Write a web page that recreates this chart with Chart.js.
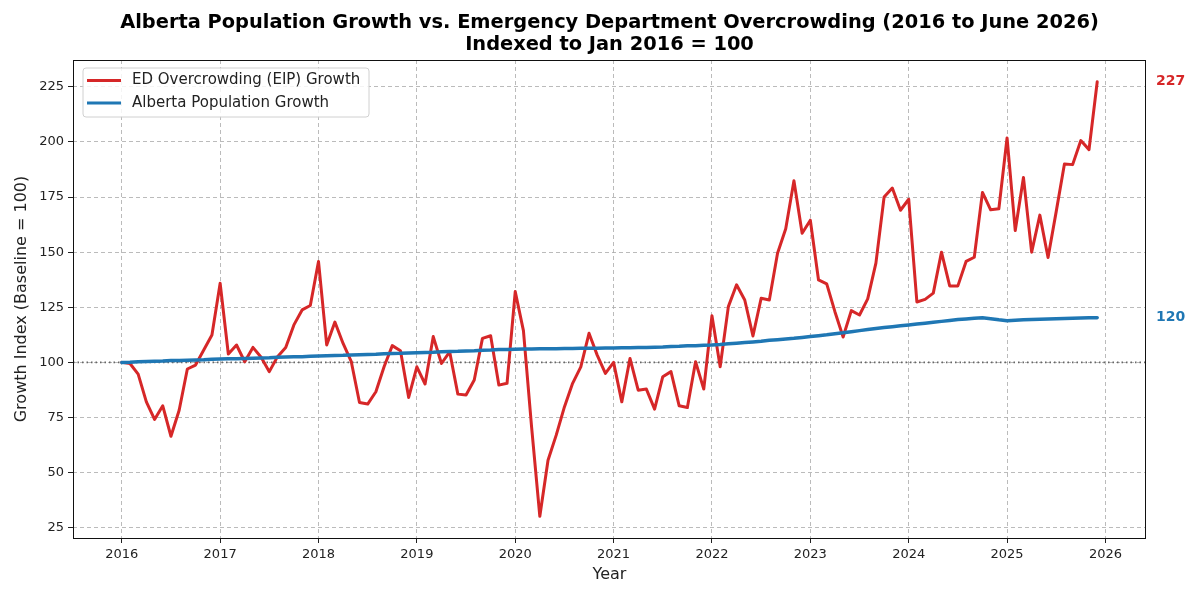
<!DOCTYPE html>
<html>
<head>
<meta charset="utf-8">
<title>Alberta Population Growth vs. ED Overcrowding</title>
<script src="https://cdn.jsdelivr.net/npm/chart.js@4.4.1/dist/chart.umd.min.js"></script>
<style>
  html, body { margin: 0; padding: 0; background: #fff; }
  #wrap { width: 1200px; height: 600px; }
</style>
</head>
<body>
<div id="wrap"><canvas id="growthChart" width="1200" height="600"></canvas></div>
<script>
// Monthly index values, Jan 2016 .. Dec 2025 (Jan 2016 = 100)
const startYear = 2016;

const edGrowth = [
  100.0, 99.5, 94.7, 82.1, 74.1, 80.3, 66.5, 78.3, 97.0, 98.8, 105.6, 112.4,   // 2016
  135.9, 103.8, 107.9, 100.3, 106.8, 102.3, 95.8, 102.6, 106.8, 117.0, 123.8, 125.8, // 2017
  145.8, 107.9, 118.3, 108.6, 100.3, 81.8, 81.1, 86.7, 98.0, 107.6, 105.3, 84.1,  // 2018
  98.0, 90.2, 111.7, 99.5, 104.8, 85.6, 85.2, 92.0, 110.9, 112.1, 89.7, 90.5,     // 2019
  132.1, 114.4, 70.5, 30.2, 55.6, 67.0, 79.8, 90.5, 98.0, 113.2, 103.3, 95.0,     // 2020
  100.0, 82.1, 101.8, 87.4, 87.9, 78.8, 93.5, 95.8, 80.3, 79.5, 100.3, 87.9,      // 2021
  121.2, 98.0, 125.3, 135.2, 128.3, 112.0, 129.1, 128.3, 149.5, 160.6, 182.4, 158.6, // 2022
  164.5, 137.4, 135.6, 123.0, 111.5, 123.5, 121.5, 128.8, 145.0, 175.0, 179.1, 169.0, // 2023
  174.0, 127.4, 128.6, 131.4, 150.0, 134.7, 134.7, 145.8, 147.7, 177.1, 169.2, 169.7, // 2024
  201.8, 159.8, 183.9, 150.0, 166.8, 147.6, 168.5, 190.0, 189.7, 200.6, 196.5, 227.3  // 2025
];

const popGrowth = [
  100.0, 100.1, 100.3, 100.4, 100.5, 100.6, 100.8, 100.9, 101.0, 101.1, 101.2, 101.4, // 2016
  101.5, 101.6, 101.7, 101.8, 101.9, 102.0, 102.1, 102.3, 102.4, 102.5, 102.6, 102.8, // 2017
  102.9, 103.0, 103.1, 103.2, 103.4, 103.5, 103.6, 103.7, 103.9, 104.0, 104.1, 104.3, // 2018
  104.4, 104.5, 104.6, 104.8, 104.9, 105.0, 105.2, 105.3, 105.5, 105.6, 105.8, 105.9, // 2019
  106.0, 106.1, 106.1, 106.2, 106.2, 106.2, 106.3, 106.3, 106.4, 106.4, 106.4, 106.5, // 2020
  106.5, 106.6, 106.6, 106.7, 106.8, 106.9, 107.0, 107.2, 107.3, 107.5, 107.6, 107.8, // 2021
  107.9, 108.1, 108.4, 108.7, 109.0, 109.3, 109.6, 110.0, 110.3, 110.6, 110.9, 111.3, // 2022
  111.7, 112.1, 112.5, 113.0, 113.4, 113.9, 114.4, 114.9, 115.4, 115.8, 116.2, 116.6, // 2023
  117.0, 117.4, 117.8, 118.2, 118.6, 119.0, 119.4, 119.7, 120.0, 120.2, 119.8, 119.3, // 2024
  118.9, 119.1, 119.3, 119.5, 119.6, 119.7, 119.8, 119.9, 120.0, 120.1, 120.2, 120.3  // 2025
];

const yearTicks = [2016, 2017, 2018, 2019, 2020, 2021, 2022, 2023, 2024, 2025, 2026];
const indexTicks = [25, 50, 75, 100, 125, 150, 175, 200, 225];
const baseline = 100;

const seriesNames = ["ED Overcrowding (EIP) Growth", "Alberta Population Growth"];
const titleLines = [
  "Alberta Population Growth vs. Emergency Department Overcrowding (2016 to June 2026)",
  "Indexed to Jan 2016 = 100"
];

const RED = "#d62728";
const BLUE = "#1f77b4";

const monthX = edGrowth.map((_, i) => startYear + i / 12);
const toPoints = arr => arr.map((v, i) => ({ x: monthX[i], y: v }));

// matplotlib-style 5% margins
const xPad = (monthX[monthX.length - 1] - monthX[0]) * 0.05;
const allVals = edGrowth.concat(popGrowth);
const yLo = Math.min(...allVals), yHi = Math.max(...allVals);
const yPad = (yHi - yLo) * 0.05;

Chart.defaults.font.family = "'DejaVu Sans', 'Noto Sans', sans-serif";
Chart.defaults.color = "#222";

const overlay = {
  id: "overlay",
  beforeDatasetsDraw(chart) {
    const { ctx, chartArea: a, scales: { y } } = chart;
    const yy = y.getPixelForValue(baseline);
    ctx.save();
    ctx.strokeStyle = "#666";
    ctx.lineWidth = 1.6;
    ctx.setLineDash([1.5, 3]);
    ctx.beginPath();
    ctx.moveTo(a.left, yy);
    ctx.lineTo(a.right, yy);
    ctx.stroke();
    ctx.restore();
  },
  afterDraw(chart) {
    const { ctx, chartArea: a, scales: { y } } = chart;
    ctx.save();

    // frame round the plot
    ctx.strokeStyle = "#111";
    ctx.lineWidth = 1;
    ctx.strokeRect(a.left + 0.5, a.top + 0.5, a.right - a.left - 1, a.bottom - a.top);

    // title
    ctx.fillStyle = "#000";
    ctx.font = "bold 19.4px 'DejaVu Sans'";
    ctx.textAlign = "center";
    ctx.textBaseline = "middle";
    const cx = (a.left + a.right) / 2;
    ctx.fillText(titleLines[0], cx, 23);
    ctx.fillText(titleLines[1], cx, 45);

    // legend box
    const lx = a.left + 10, ly = a.top + 8;
    ctx.fillStyle = "rgba(255,255,255,0.85)";
    ctx.strokeStyle = "#d0d0d0";
    ctx.lineWidth = 1;
    ctx.beginPath();
    ctx.roundRect(lx, ly, 286, 49, 3);
    ctx.fill();
    ctx.stroke();
    ctx.font = "15px 'DejaVu Sans'";
    ctx.textAlign = "left";
    [RED, BLUE].forEach((c, i) => {
      const ry = ly + 12.5 + i * 22.5;
      ctx.strokeStyle = c;
      ctx.lineWidth = 3;
      ctx.beginPath();
      ctx.moveTo(lx + 4, ry);
      ctx.lineTo(lx + 38, ry);
      ctx.stroke();
      ctx.fillStyle = "#222";
      ctx.fillText(seriesNames[i], lx + 49, ry);
    });

    // end values on the right
    ctx.font = "bold 14px 'DejaVu Sans'";
    const edLast = edGrowth[edGrowth.length - 1];
    const popLast = popGrowth[popGrowth.length - 1];
    ctx.fillStyle = RED;
    ctx.fillText(String(Math.round(edLast)), a.right + 10, y.getPixelForValue(edLast));
    ctx.fillStyle = BLUE;
    ctx.fillText(String(Math.round(popLast)), a.right + 10, y.getPixelForValue(popLast));

    ctx.restore();
  }
};

const config = {
  type: "line",
  data: {
    datasets: [
      {
        label: seriesNames[0],
        data: toPoints(edGrowth),
        borderColor: RED,
        backgroundColor: RED,
        borderWidth: 3,
        borderJoinStyle: "round",
        borderCapStyle: "round",
        pointRadius: 0,
        tension: 0,
        order: 2
      },
      {
        label: seriesNames[1],
        data: toPoints(popGrowth),
        borderColor: BLUE,
        backgroundColor: BLUE,
        borderWidth: 3.5,
        borderJoinStyle: "round",
        borderCapStyle: "round",
        pointRadius: 0,
        tension: 0,
        order: 1
      }
    ]
  },
  options: {
    responsive: false,
    animation: false,
    layout: { padding: { top: 60, right: 54, bottom: 12, left: 8 } },
    plugins: {
      legend: { display: false },
      title: { display: false },
      tooltip: { enabled: false }
    },
    scales: {
      x: {
        type: "linear",
        min: monthX[0] - xPad,
        max: monthX[monthX.length - 1] + xPad,
        afterBuildTicks: s => { s.ticks = yearTicks.map(v => ({ value: v })); },
        afterFit: s => { s.height = 50; },
        ticks: {
          callback: v => String(v),
          font: { size: 13 },
          color: "#222",
          padding: 4,
          maxRotation: 0
        },
        grid: {
          color: "rgba(170,170,170,0.8)",
          lineWidth: 1,
          tickLength: 5,
          tickColor: "#222",
          tickBorderDash: []
        },
        border: { display: false, dash: [4, 3] },
        title: { display: true, text: "Year", font: { size: 16 }, color: "#222" }
      },
      y: {
        type: "linear",
        min: yLo - yPad,
        max: yHi + yPad,
        afterBuildTicks: s => { s.ticks = indexTicks.map(v => ({ value: v })); },
        afterFit: s => { s.width = 65; },
        ticks: {
          font: { size: 13 },
          color: "#222",
          padding: 4
        },
        grid: {
          color: "rgba(170,170,170,0.8)",
          lineWidth: 1,
          tickLength: 5,
          tickColor: "#222",
          tickBorderDash: []
        },
        border: { display: false, dash: [4, 3] },
        title: { display: true, text: "Growth Index (Baseline = 100)", font: { size: 16 }, color: "#222" }
      }
    }
  },
  plugins: [overlay]
};

const growthChart = new Chart(document.getElementById("growthChart"), config);
</script>
</body>
</html>
